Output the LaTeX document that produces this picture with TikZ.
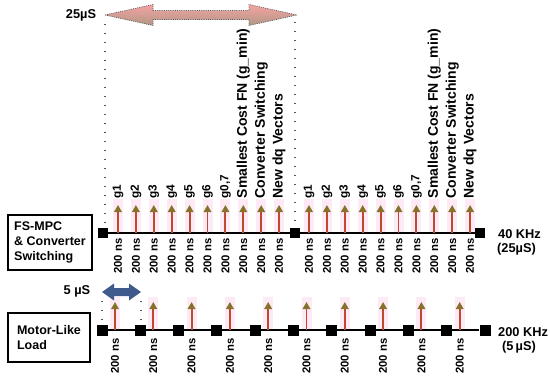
\documentclass[tikz,border=0pt]{standalone}
\usepackage{fontspec}
\setmainfont{Liberation Sans}
\usetikzlibrary{arrows.meta}
\definecolor{shaftc}{HTML}{BB4A30}
\definecolor{headc}{HTML}{86722C}
\definecolor{glow}{HTML}{FDEAF5}
\definecolor{pinkA}{HTML}{F5A3A3}
\definecolor{pinkB}{HTML}{B09884}
\definecolor{blueA}{HTML}{3F5B8E}
\definecolor{dotc}{HTML}{555555}
\begin{document}
\begin{tikzpicture}[x=1pt,y=-1pt,
 sq/.style={fill=black,minimum size=10pt,inner sep=0pt},
 tl/.style={line width=1.8pt,black},
 evt/.style={line width=1.9pt,shaftc,-{Triangle[length=7pt,width=7.5pt,color=headc]}},
 lblS/.style={font=\fontsize{11.8}{12}\selectfont\bfseries,rotate=90,anchor=west,inner sep=0pt},
 lblL/.style={font=\fontsize{14}{15}\selectfont\bfseries,rotate=90,anchor=west,inner sep=0pt},
 ns/.style={font=\fontsize{11.3}{12}\selectfont\bfseries,rotate=90,anchor=east,inner sep=0pt},
 txt/.style={font=\fontsize{12.8}{15}\selectfont\bfseries,inner sep=0pt},
 box/.style={draw=black,line width=1.8pt,align=left,font=\fontsize{12.5}{15}\selectfont\bfseries},
 dots/.style={dotc,line width=1.2pt,dash pattern=on 1.2pt off 7.8pt},
 glowband/.style={fill=glow,draw=none}
]
\useasboundingbox (0,0) rectangle (550,380);

% ---------- top timeline ----------
\foreach \off/\h in {0/a,191/b}{
  \foreach \k in {0,...,9}{
    \pgfmathsetmacro\xx{118+17.9*\k+\off}
    \fill[glowband] (\xx-5,199) rectangle (\xx+5,232);
  }
}
\node[sq] (s1) at (103,233) {};
\node[sq] (s2) at (295,233) {};
\node[sq] (s3) at (480,233) {};
\draw[tl] (s1) -- (s2) -- (s3);

\foreach \off/\h in {0/a,191/b}{
  \foreach \t [count=\k from 0] in {g1,g2,g3,g4,g5,g6,{g0,7}}{
    \node[lblS] (\h L\k) at ({118+17.9*\k+\off},198.5) {\t};
  }
  \foreach \t [count=\k from 7] in {{Smallest Cost FN (g\_min)},{Converter Switching},{New dq Vectors}}{
    \node[lblL] (\h L\k) at ({118+17.9*\k+\off},198.5) {\t};
  }
  \foreach \k in {0,...,9}{
    \pgfmathsetmacro\xx{118+17.9*\k+\off}
    \coordinate (\h B\k) at (\xx,232.5);
    \coordinate (\h T\k) at (\xx,205);
    \draw[evt] (\h B\k) -- (\h T\k);
    \node[ns] (\h N\k) at (\xx,238.5) {200 ns};
  }
}

% 25 us arrow
\node[txt] (tp) at (81,15) {25µS};
\shade[top color=pinkA, middle color=pinkA, bottom color=pinkB]
  (105,15) -- (153,4.5) -- (153,10.5) -- (249,10.5) -- (249,4.5) -- (297,15)
  -- (249,25.5) -- (249,19.5) -- (153,19.5) -- (153,25.5) -- cycle;
\draw[dotc,line width=0.7pt,dash pattern=on 1pt off 1.2pt]
  (105,15) -- (153,4.5) -- (153,10.5) -- (249,10.5) -- (249,4.5) -- (297,15)
  -- (249,25.5) -- (249,19.5) -- (153,19.5) -- (153,25.5) -- cycle;
\coordinate (p1) at (105,24);
\coordinate (p2) at (295,22);
\draw[dots] (p1) -- (p1 |- s1.north);
\draw[dots] (p2) -- (s2.north);

\node[txt,anchor=west] (f1) at (498,234) {40 KHz};
\node[txt,anchor=west] (f1b) at (497,249) {(25µS)};

% ---------- boxes ----------
\node[box,minimum width=84pt,minimum height=55pt] (bx1) at (50,242.5) {FS-MPC\\\& Converter\\Switching};
\node[box,minimum width=82pt,minimum height=49pt] (bx2) at (49,337.5) {Motor-Like\\Load};

% ---------- bottom timeline ----------
\foreach \i in {0,...,9}{
  \pgfmathsetmacro\xx{115+38.3*\i}
  \fill[glowband] (\xx-5,297) rectangle (\xx+5,329);
}
\foreach \i in {0,...,10}{
  \node[sq,minimum size=11pt] (q\i) at ({102+38.3*\i},330) {};
}
\draw[tl] (q0) -- (q10);
\foreach \i in {0,...,9}{
  \pgfmathsetmacro\xx{115+38.3*\i}
  \coordinate (cB\i) at (\xx,329.5);
  \coordinate (cT\i) at (\xx,302);
  \draw[evt] (cB\i) -- (cT\i);
  \node[ns] (cN\i) at (\xx,338.5) {200 ns};
}

% 5 us arrow
\node[txt] (fv) at (77,291) {5 µS};
\fill[blueA] (102,292) -- (114,283.5) -- (114,288) -- (129,288) -- (129,283.5) -- (141,292)
  -- (129,300.5) -- (129,296) -- (114,296) -- (114,300.5) -- cycle;
\coordinate (u1) at (102,301);
\coordinate (u2) at (141,301);
\draw[dots] (u1) -- (u1 |- q0.north);
\draw[dots] (u2) -- (u2 |- q1.north);

\node[txt,anchor=west] (f2) at (498,332) {200 KHz};
\node[txt,anchor=west] (f2b) at (502,347) {(5\,µS)};
\end{tikzpicture}
\end{document}
